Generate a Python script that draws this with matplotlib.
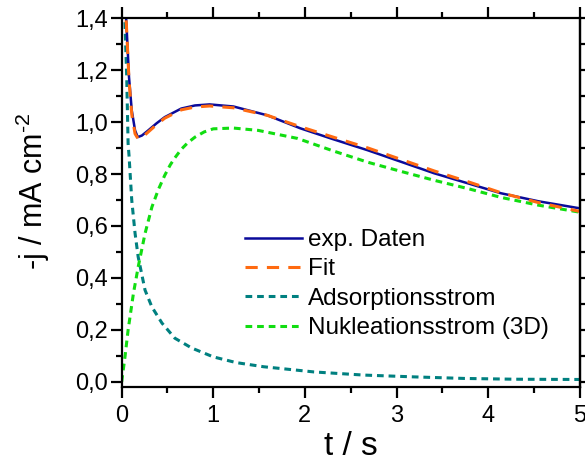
import matplotlib
matplotlib.use("Agg")
import matplotlib.pyplot as plt
from matplotlib.ticker import MultipleLocator, FuncFormatter

plt.rcParams['font.family'] = ['Liberation Sans', 'DejaVu Sans']
plt.rcParams['mathtext.fontset'] = 'custom'
plt.rcParams['mathtext.rm'] = 'Liberation Sans'
plt.rcParams['mathtext.it'] = 'Liberation Sans'

# exp. Daten
t_exp = [0.0, 0.03, 0.052, 0.08, 0.11, 0.146, 0.175, 0.22, 0.29, 0.38, 0.47, 0.65, 0.8, 0.96,
         1.22, 1.59, 1.95, 2.3, 2.69, 3.05, 3.41, 3.8, 4.14, 4.55, 5.0]
j_exp = [1.9, 1.52, 1.378, 1.173, 1.045, 0.968, 0.942, 0.948, 0.968, 0.995, 1.019, 1.052, 1.064,
         1.068, 1.060, 1.026, 0.976, 0.935, 0.891, 0.847, 0.803, 0.762, 0.726, 0.695, 0.668]

# Fit
t_fit = [0.0, 0.03, 0.052, 0.08, 0.11, 0.146, 0.18, 0.22, 0.29, 0.38, 0.47, 0.65, 0.8, 0.96,
         1.22, 1.59, 1.95, 2.3, 2.69, 3.05, 3.41, 3.8, 4.14, 4.55, 5.0]
j_fit = [1.9, 1.50, 1.37, 1.16, 1.03, 0.955, 0.935, 0.94, 0.962, 0.99, 1.015, 1.047, 1.058,
         1.062, 1.055, 1.026, 0.982, 0.943, 0.900, 0.856, 0.812, 0.768, 0.728, 0.690, 0.656]

# Adsorptionsstrom
t_ads = [0.0, 0.02, 0.036, 0.055, 0.07, 0.08, 0.11, 0.146, 0.18, 0.255, 0.33, 0.44, 0.58, 0.765,
         1.0, 1.25, 1.55, 2.1, 2.64, 3.19, 3.74, 4.29, 5.0]
j_ads = [1.9, 1.6, 1.378, 1.173, 0.918, 0.872, 0.699, 0.572, 0.481, 0.353, 0.288, 0.226, 0.168,
         0.130, 0.096, 0.074, 0.058, 0.038, 0.026, 0.019, 0.013, 0.010, 0.009]

# Nukleationsstrom (3D)
t_nuk = [0.0, 0.036, 0.07, 0.128, 0.18, 0.255, 0.33, 0.40, 0.47, 0.53, 0.58, 0.65, 0.72, 0.8,
         0.9, 1.0, 1.22, 1.49, 1.92, 2.3, 2.69, 3.05, 3.41, 3.8, 4.14, 4.55, 5.0]
j_nuk = [0.0, 0.096, 0.199, 0.34, 0.442, 0.571, 0.673, 0.74, 0.795, 0.835, 0.862, 0.895, 0.92,
         0.942, 0.962, 0.974, 0.977, 0.968, 0.937, 0.89, 0.845, 0.81, 0.776, 0.742, 0.710,
         0.680, 0.653]

labels = ['exp. Daten', 'Fit', 'Adsorptionsstrom', 'Nukleationsstrom (3D)']

fig = plt.figure(figsize=(5.85, 4.66), dpi=100)
ax = fig.add_axes([0.208, 0.1695, 0.783, 0.7915])

l3, = ax.plot(t_ads, j_ads, color='#008080', lw=2.2, dashes=(2.2, 1.6), label=labels[2])
l4, = ax.plot(t_nuk, j_nuk, color='#11dd11', lw=2.2, dashes=(2.2, 1.6), label=labels[3])
l1, = ax.plot(t_exp, j_exp, color='#0a0a9a', lw=1.8, label=labels[0])
l2, = ax.plot(t_fit, j_fit, color='#ff6a10', lw=2.2, dashes=(4, 3), label=labels[1])

ax.set_xlim(0, 5)
ax.set_ylim(-0.02, 1.4)

ax.xaxis.set_major_locator(MultipleLocator(1))
ax.xaxis.set_minor_locator(MultipleLocator(0.5))
ax.yaxis.set_major_locator(MultipleLocator(0.2))
ax.yaxis.set_minor_locator(MultipleLocator(0.1))
ax.yaxis.set_major_formatter(FuncFormatter(lambda v, p: f"{v:.1f}".replace('.', ',')))
ax.xaxis.set_major_formatter(FuncFormatter(lambda v, p: f"{v:.0f}"))

for s in ax.spines.values():
    s.set_linewidth(1.6)

ax.tick_params(which='major', direction='out', length=8, width=1.6, labelsize=17, top=True)
ax.tick_params(which='minor', direction='out', length=4, width=1.6, top=True)
ax.tick_params(axis='y', which='major', pad=2)
ax.tick_params(axis='x', which='major', pad=5)

# right axis: ticks of equal length
sec = ax.secondary_yaxis('right')
sec.yaxis.set_major_locator(MultipleLocator(0.1))
sec.tick_params(which='major', direction='out', length=5, width=1.6, labelright=False)
sec.spines['right'].set_linewidth(1.6)

ax.set_xlabel('t / s', fontsize=24, labelpad=3)
ax.set_ylabel(r'-j / mA cm$^{\text{-}2}$', fontsize=22)
ax.yaxis.set_label_coords(-0.152, 0.53)

ax.legend(handles=[l1, l2, l3, l4], loc='upper left', bbox_to_anchor=(0.269, 0.428),
          frameon=False, fontsize=17.5, handlelength=2.35, handletextpad=0.25,
          labelspacing=0.3, borderaxespad=0, borderpad=0)

fig.savefig('out.png', dpi=100)
